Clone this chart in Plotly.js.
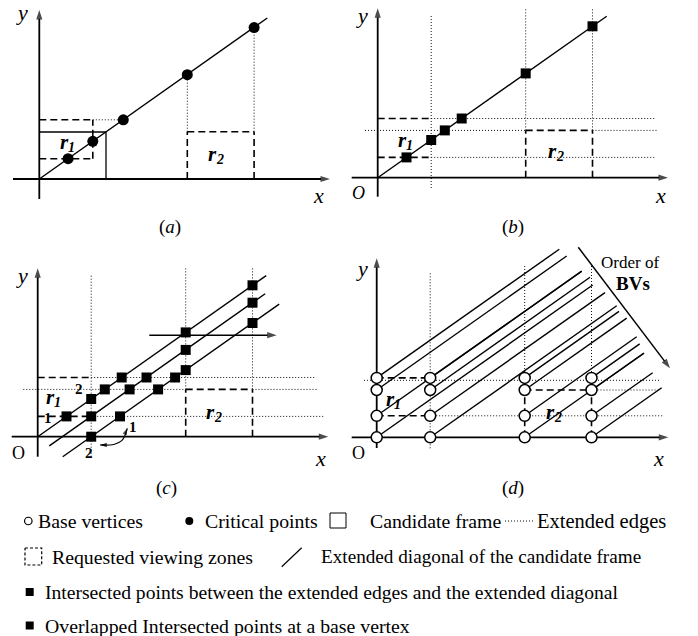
<!DOCTYPE html>
<html><head><meta charset="utf-8">
<script src="https://cdn.plot.ly/plotly-3.0.1.min.js"></script>
<style>html,body{margin:0;padding:0;background:#fff}</style>
</head><body><div id="chart" style="width:698px;height:636px"></div>
<script>
// ---------- values (each panel: origin at its axes origin, y up) ----------
const r1X = [0, 53.5];            // requested viewing zone r1 (x extent)
const r1Y = [20.3, 59.2];         // r1 (y extent)
const r2X = [148, 214.8];         // r2 (x extent)
const r2Y = [0, 47.3];            // r2 (y extent)
const frameX = [0, 66.7];         // candidate frame
const frameY = [0, 47.0];

// (a) critical points and diagonal
const diagAX = [0, 228];
const diagAY = [0, 161];
const critX = [28.8, 53.5, 84, 148, 214.8];
const critY = [20.3, 37.7, 59.2, 104.3, 151.4];

// (b) intersected points and diagonal
const diagBX = [0, 229];
const diagBY = [0, 161.4];
const interBX = [28.8, 53.5, 67.1, 84, 148, 214.8];
const interBY = [20.3, 37.7, 47.3, 59.2, 104.3, 151.4];

// (c) three extended diagonals and their intersected points
const diagC0X = [0, 228.5],   diagC0Y = [0, 161.1];
const diagC1X = [11.6, 227.5], diagC1Y = [-9.2, 143];
const diagC2X = [25, 241.5],  diagC2Y = [-20.1, 132.6];
const interC0X = [28.8, 53.5, 67.1, 84, 148, 214.8];
const interC0Y = [20.3, 37.7, 47.3, 59.2, 104.3, 151.4];
const interC1X = [91.9, 108.8, 148, 214.8];
const interC1Y = [47.3, 59.2, 86.8, 134];
const interC2X = [82.3, 120.4, 137.4, 148, 214.8];
const interC2Y = [20.3, 47.3, 59.2, 66.6, 113.7];
const overlapCX = [53.5, 53.5];   // overlapped points at base vertices
const overlapCY = [20.3, 0];

// (d) base vertices and the diagonal drawn from each of them
const baseX = [0, 53.5, 148, 214.8];
const baseY = [0, 21.5, 47.3, 59.4];
const bvEndX = [[216, 205, 190, 182.6], [240, 228.3, 213.3, 205], [267.3, 260, 250, 242.3], [285, 276, 267.3, 263]];
const bvEndY = [[152.3, 166, 181.3, 188.1], [131.5, 144.7, 160, 166.2], [84.1, 100.5, 119.2, 125.9], [49.5, 64.6, 84.3, 93.4]];

// legend texts
const legendTexts = ['Base vertices', 'Critical points', 'Candidate frame', 'Extended edges',
  'Requested viewing zones', 'Extended diagonal of the candidate frame',
  'Intersected points between the extended edges and the extended diagonal',
  'Overlapped Intersected points at a base vertex'];

// ---------- drawing ----------
const W = 698, H = 636;
const SERIF = '"Liberation Serif", "Times New Roman", serif';
const traces = [], annotations = [];
const layout = {width: W, height: H, margin: {l: 0, r: 0, t: 0, b: 0}, paper_bgcolor: '#fff',
  plot_bgcolor: 'rgba(0,0,0,0)', showlegend: false, annotations: annotations};

function sx(n) { return n === 1 ? '' : String(n); }
function setAxes(n, pxL, pxR, pxT, pxB, ox, oy) {
  const s = sx(n);
  layout['xaxis' + s] = {domain: [pxL / W, pxR / W], range: [pxL - ox, pxR - ox], visible: false, fixedrange: true, anchor: 'y' + s};
  layout['yaxis' + s] = {domain: [1 - pxB / H, 1 - pxT / H], range: [oy - pxB, oy - pxT], visible: false, fixedrange: true, anchor: 'x' + s};
}
function addLines(n, list, style) {
  const x = [], y = [];
  list.forEach(s => { x.push(s[0], s[2], null); y.push(s[1], s[3], null); });
  traces.push({type: 'scatter', mode: 'lines', x: x, y: y, xaxis: 'x' + sx(n), yaxis: 'y' + sx(n),
    line: Object.assign({color: '#000', width: 1.5}, style), hoverinfo: 'skip', connectgaps: false});
}
function addPath(n, xs, ys, style) {
  traces.push({type: 'scatter', mode: 'lines', x: xs, y: ys, xaxis: 'x' + sx(n), yaxis: 'y' + sx(n),
    line: Object.assign({color: '#000', width: 1.5}, style), hoverinfo: 'skip'});
}
function addMarkers(n, xs, ys, marker) {
  traces.push({type: 'scatter', mode: 'markers', x: xs, y: ys, xaxis: 'x' + sx(n), yaxis: 'y' + sx(n),
    marker: marker, hoverinfo: 'skip', cliponaxis: false});
}
// line with an arrowhead at its last point
function addArrow(n, xs, ys, w, size, shape) {
  traces.push({type: 'scatter', mode: 'lines+markers', x: xs, y: ys, xaxis: 'x' + sx(n), yaxis: 'y' + sx(n),
    line: {color: '#000', width: w, shape: shape || 'linear'},
    marker: {symbol: 'arrow', angleref: 'previous', color: '#000', line: {width: 0},
      size: xs.map((_, i) => i === xs.length - 1 ? size : 0)},
    hoverinfo: 'skip', cliponaxis: false});
}
function label(n, x, y, text, size, extra) {
  const s = sx(n);
  annotations.push(Object.assign({xref: 'x' + s, yref: 'y' + s, x: x, y: y, text: text, showarrow: false,
    font: {family: SERIF, size: size, color: '#000'}, xanchor: 'center', yanchor: 'middle'}, extra || {}));
}
// bold italic r with a subscript digit
function rLabel(n, x, y, digit) {
  label(n, x - 3, y + 1.5, '<b><i>r</i></b>', 21);
  label(n, x + 4.5, y - 4, '<b><i>' + digit + '</i></b>', 14);
}
const DOT = {dash: '1px,2px', width: 1, color: '#111'};
const DASH = {dash: '7px,4px', width: 1.6, color: '#000'};
const SOLID = {width: 1.4, color: '#000'};
const AXW = 1.8, AXH = 10;
const SQ = {symbol: 'square', size: 10, color: '#000'};

function r1Dashed(bottom, top) {
  return [[r1X[0], top, r1X[1], top], [r1X[0], bottom, r1X[1], bottom]];
}
function r2Dashed(top) {
  return [[r2X[0], top, r2X[1], top], [r2X[0], r2Y[0], r2X[0], top], [r2X[1], r2Y[0], r2X[1], top]];
}

// ----- panel (a) -----
setAxes(1, 0, 349, 0, 245, 39.3, 179);
addLines(1, [[r1X[1], r1Y[1], critX[2], critY[2]], [r2X[0], r2Y[1], critX[3], critY[3]], [r2X[1], r2Y[1], critX[4], critY[4]]], DOT);
addLines(1, r1Dashed(r1Y[0], r1Y[1]).concat([[r1X[1], r1Y[0], r1X[1], r1Y[1]]]), DASH);
addLines(1, r2Dashed(r2Y[1]), DASH);
addLines(1, [[frameX[0], frameY[1], frameX[1], frameY[1]], [frameX[1], frameY[0], frameX[1], frameY[1]]], {width: 1.3});
addArrow(1, [0, 0], [-20, 169], AXW, AXH); addArrow(1, [-26.3, 290.7], [0, 0], AXW, AXH);
addLines(1, [[diagAX[0], diagAY[0], diagAX[1], diagAY[1]]], SOLID);
addMarkers(1, critX, critY, {symbol: 'circle', size: 11, color: '#000'});
label(1, -17.3, 167, '<i>y</i>', 22); label(1, 278.7, -16, '<i>x</i>', 22);
label(1, 130.7, -48, '(<i>a</i>)', 19);
rLabel(1, 28, 36, '1'); rLabel(1, 175.7, 24, '2');

// ----- panel (b) -----
setAxes(2, 349, 698, 0, 245, 377.7, 177.7);
addLines(2, [[r1X[1], -10.3, r1X[1], 162.7], [r2X[0], r2Y[1], r2X[0], 169], [r2X[1], r2Y[1], r2X[1], 169],
  [r1X[1], r1Y[1], 277, r1Y[1]], [-12.7, r2Y[1], r2X[0], r2Y[1]], [r2X[1], r2Y[1], 280, r2Y[1]], [r1X[1], r1Y[0], 277, r1Y[0]]], DOT);
addLines(2, r1Dashed(r1Y[0], r1Y[1]).concat(r2Dashed(r2Y[1])), DASH);
addArrow(2, [0, 0], [-19, 169.4], AXW, AXH); addArrow(2, [-26, 290.3], [0, 0], AXW, AXH);
addLines(2, [[diagBX[0], diagBY[0], diagBX[1], diagBY[1]]], SOLID);
addMarkers(2, interBX, interBY, SQ);
label(2, -16, 162.7, '<i>y</i>', 22); label(2, 282.3, -17.3, '<i>x</i>', 22);
label(2, -19.7, -15.3, '<i>O</i>', 18);
label(2, 135.3, -49.3, '(<i>b</i>)', 19);
rLabel(2, 27.3, 36, '1'); rLabel(2, 177.3, 25, '2');

// ----- panel (c) -----
setAxes(3, 0, 349, 245, 500, 37.7, 436.7);
addLines(3, [[r1X[1], -20, r1X[1], 161.7], [r2X[0], r2Y[1], r2X[0], 168.4], [r2X[1], r2Y[1], r2X[1], 168.4],
  [r1X[1], r1Y[1], 277.3, r1Y[1]], [-14.4, r2Y[1], r2X[0], r2Y[1]], [r2X[1], r2Y[1], 280.7, r2Y[1]], [r1X[1], r1Y[0], 287, r1Y[0]]], DOT);
addLines(3, r1Dashed(r1Y[0], r1Y[1]).concat(r2Dashed(r2Y[1])), DASH);
addArrow(3, [0, 0], [-20, 168.4], AXW, AXH); addArrow(3, [-26, 290.6], [0, 0], AXW, AXH);
addLines(3, [[diagC0X[0], diagC0Y[0], diagC0X[1], diagC0Y[1]], [diagC1X[0], diagC1Y[0], diagC1X[1], diagC1Y[1]],
  [diagC2X[0], diagC2Y[0], diagC2X[1], diagC2Y[1]]], SOLID);
addArrow(3, [111.6, 239], [101.5, 101.5], 1.6, AXH);
addArrow(3, [64, 76, 84.5, 89.6], [-8.4, -7.8, -3.5, 8.4], 1.2, 7, 'spline');
addArrow(3, [68, 62.5], [-8.3, -8.2], 1.2, 7);
addMarkers(3, interC0X, interC0Y, SQ);
addMarkers(3, interC1X, interC1Y, SQ);
addMarkers(3, interC2X, interC2Y, SQ);
addMarkers(3, overlapCX, overlapCY, SQ);
label(3, -16, 161.7, '<i>y</i>', 22); label(3, 282.3, -21.3, '<i>x</i>', 22);
label(3, -19.4, -16.6, 'O', 18);
label(3, 129, -51.3, '(<i>c</i>)', 19);
rLabel(3, 15.6, 38.4, '1'); rLabel(3, 175.6, 23.4, '2');
label(3, 41.6, 47.4, '<b>2</b>', 15); label(3, 10.6, 18.7, '<b>1</b>', 15);
label(3, 95, 10, '<b>1</b>', 15); label(3, 51.6, -16, '<b>2</b>', 15);

// ----- panel (d) -----
setAxes(4, 349, 698, 245, 500, 376.7, 437.3);
addLines(4, [[baseX[1], -11, baseX[1], 164], [baseX[2], baseY[2], baseX[2], 172], [baseX[3], baseY[2], baseX[3], 172],
  [-12.7, 57, 283, 57], [baseX[3], baseY[2], 283, baseY[2]], [baseX[1], baseY[1], 287, baseY[1]]], DOT);
addLines(4, [[baseX[0], baseY[3], baseX[1], baseY[3]], [baseX[0], baseY[1], baseX[1], baseY[1]],
  [baseX[2], baseY[2], baseX[3], baseY[2]], [baseX[2], baseY[0], baseX[2], baseY[2]], [baseX[3], baseY[0], baseX[3], baseY[2]]], DASH);
addArrow(4, [0, 0], [-10.7, 179], AXW, AXH); addArrow(4, [-25, 291.6], [0, 0], AXW, AXH);
const bvLines = [];
baseX.forEach((bx, i) => baseY.forEach((by, j) => bvLines.push([bx, by, bvEndX[i][j], bvEndY[i][j]])));
addLines(4, bvLines, SOLID);
const bvX = [], bvY = [];
baseX.forEach(bx => baseY.forEach(by => { bvX.push(bx); bvY.push(by); }));
addMarkers(4, bvX, bvY, {symbol: 'circle', size: 11, color: '#fff', line: {color: '#000', width: 1.5}});
addArrow(4, [201.6, 293.3], [190, 69], 1.5, AXH);
label(4, -15, 169.3, '<i>y</i>', 22); label(4, 281.6, -21, '<i>x</i>', 22);
label(4, -18.4, -16, 'O', 18);
label(4, 136.6, -51, '(<i>d</i>)', 19);
rLabel(4, 16.6, 37.3, '1'); rLabel(4, 176.6, 24, '2');
label(4, 253.3, 174.6, 'Order of', 17);
label(4, 256.6, 154, '<b>BVs</b>', 19);

// ----- legend (bottom) -----
layout.xaxis5 = {domain: [0, 1], range: [0, W], visible: false, fixedrange: true, anchor: 'y5'};
layout.yaxis5 = {domain: [0, 1 - 500 / H], range: [H, 500], visible: false, fixedrange: true, anchor: 'x5'};
addMarkers(5, [28.3], [521], {symbol: 'circle', size: 7.5, color: '#fff', line: {color: '#000', width: 1.2}});
addMarkers(5, [189.3], [521], {symbol: 'circle', size: 8, color: '#000'});
addPath(5, [330, 346, 346, 330, 330], [513, 513, 528, 528, 513], {width: 1});
addLines(5, [[505, 521, 535, 521]], DOT);
addPath(5, [25, 41.7, 41.7, 25, 25], [548, 548, 565, 565, 548], {width: 1.2, dash: '3px,2px'});
addLines(5, [[281.7, 566.7, 301.7, 547.7]], {width: 1.2});
addMarkers(5, [29.7, 29.7], [592, 625.5], {symbol: 'square', size: 8, color: '#000'});
const legPos = [[36, 521], [203.3, 521], [368.3, 521], [535, 521], [50, 556.7], [319, 556.7], [43.3, 592.5], [43.3, 626]];
const legSize = [19.8, 19.8, 19.8, 20.5, 19.8, 19.2, 19.6, 19.8];
legendTexts.forEach((t, i) => label(5, legPos[i][0], legPos[i][1], t, legSize[i], {xanchor: 'left'}));

Plotly.newPlot('chart', traces, layout, {staticPlot: true, displayModeBar: false});
</script>
</body></html>
